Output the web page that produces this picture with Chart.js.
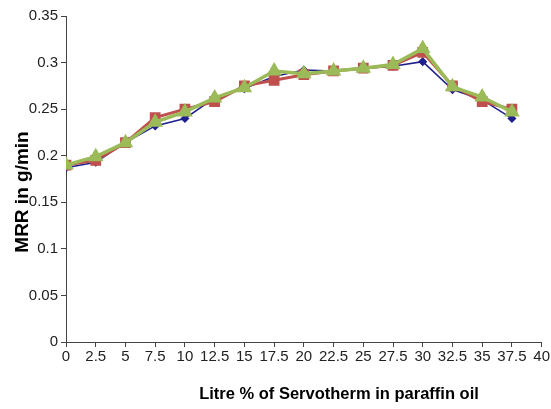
<!DOCTYPE html>
<html>
<head>
<meta charset="utf-8">
<script src="https://cdn.jsdelivr.net/npm/chart.js@4"></script>
<style>
  body { margin: 0; background: #fff; }
  #wrap { width: 551px; height: 409px; position: relative; }
</style>
</head>
<body>
<div id="wrap"><canvas id="myChart"></canvas></div>
<script>
// litre % of servotherm
const litres = [0, 2.5, 5, 7.5, 10, 12.5, 15, 17.5, 20, 22.5, 25, 27.5, 30, 32.5, 35, 37.5];
const mrrBlue  = [0.187, 0.193, 0.214, 0.232, 0.240, 0.262, 0.272, 0.285, 0.292, 0.291, 0.294, 0.296, 0.301, 0.271, 0.260, 0.240];
const mrrRed   = [0.190, 0.195, 0.214, 0.241, 0.250, 0.258, 0.275, 0.281, 0.287, 0.291, 0.294, 0.297, 0.311, 0.275, 0.258, 0.250];
const mrrGreen = [0.190, 0.199, 0.214, 0.236, 0.247, 0.262, 0.273, 0.291, 0.288, 0.291, 0.294, 0.298, 0.315, 0.274, 0.263, 0.247];
const xTicks = [0, 2.5, 5, 7.5, 10, 12.5, 15, 17.5, 20, 22.5, 25, 27.5, 30, 32.5, 35, 37.5, 40];
const yTicks = [0, 0.05, 0.1, 0.15, 0.2, 0.25, 0.3, 0.35];
const xTitle = 'Litre % of Servotherm in paraffin oil';
const yTitle = 'MRR in g/min';

const pts = (ys) => litres.map((x, i) => ({ x: x, y: ys[i] }));

// axis titles drawn by hand so they sit where the original has them
const titlesPlugin = {
  id: 'titles',
  afterDraw(chart) {
    const c = chart.ctx;
    c.save();
    c.fillStyle = '#000';
    c.font = 'bold 16.5px "Liberation Sans", Arial, sans-serif';
    c.textAlign = 'center';
    c.textBaseline = 'middle';
    c.fillText(xTitle, 339, 394);
    c.translate(23, 192);
    c.rotate(-Math.PI / 2);
    c.font = 'bold 19px "Liberation Sans", Arial, sans-serif';
    c.fillText(yTitle, 0, 0);
    c.restore();
  }
};

const ctx = document.getElementById('myChart').getContext('2d');
const myChart = new Chart(ctx, {
  type: 'line',
  data: {
    datasets: [{
      label: 'blue',
      data: pts(mrrBlue),
      borderColor: '#1f1f8c',
      backgroundColor: '#1f1f8c',
      borderWidth: 1.5,
      pointStyle: 'rectRot',
      pointRadius: 3.5,
      order: 3
    }, {
      label: 'red',
      data: pts(mrrRed),
      borderColor: '#c0504d',
      backgroundColor: '#c0504d',
      borderWidth: 3,
      pointStyle: 'rect',
      pointRadius: 5.5,
      order: 2
    }, {
      label: 'green',
      data: pts(mrrGreen),
      borderColor: '#9bbb59',
      backgroundColor: '#9bbb59',
      borderWidth: 3.5,
      pointStyle: 'triangle',
      pointRadius: 5.5,
      order: 1
    }]
  },
  options: {
    responsive: true,
    maintainAspectRatio: false,
    animation: false,
    layout: { padding: { top: 16, right: 8, left: 0, bottom: 0 } },
    plugins: {
      legend: { display: false },
      tooltip: { enabled: false }
    },
    elements: { line: { tension: 0 }, point: { borderWidth: 1 } },
    scales: {
      x: {
        type: 'linear',
        min: 0,
        max: 40,
        afterBuildTicks: (axis) => { axis.ticks = xTicks.map(v => ({ value: v })); },
        afterFit: (axis) => { axis.height = 67; },
        ticks: {
          color: '#222',
          font: { family: '"Liberation Sans", Arial, sans-serif', size: 15 },
          maxRotation: 0,
          autoSkip: false,
          padding: 1,
          callback: (v) => String(v)
        },
        grid: { drawOnChartArea: false, tickLength: 5, color: '#444' },
        border: { color: '#444', width: 1 }
      },
      y: {
        min: 0,
        max: 0.35,
        afterBuildTicks: (axis) => { axis.ticks = yTicks.map(v => ({ value: v })); },
        afterFit: (axis) => { axis.width = 66; },
        ticks: {
          color: '#222',
          font: { family: '"Liberation Sans", Arial, sans-serif', size: 15 },
          padding: 3,
          callback: (v) => String(Math.round(v * 100) / 100)
        },
        grid: { drawOnChartArea: false, tickLength: 5, color: '#444' },
        border: { color: '#444', width: 1 }
      }
    }
  },
  plugins: [titlesPlugin]
});
</script>
</body>
</html>
